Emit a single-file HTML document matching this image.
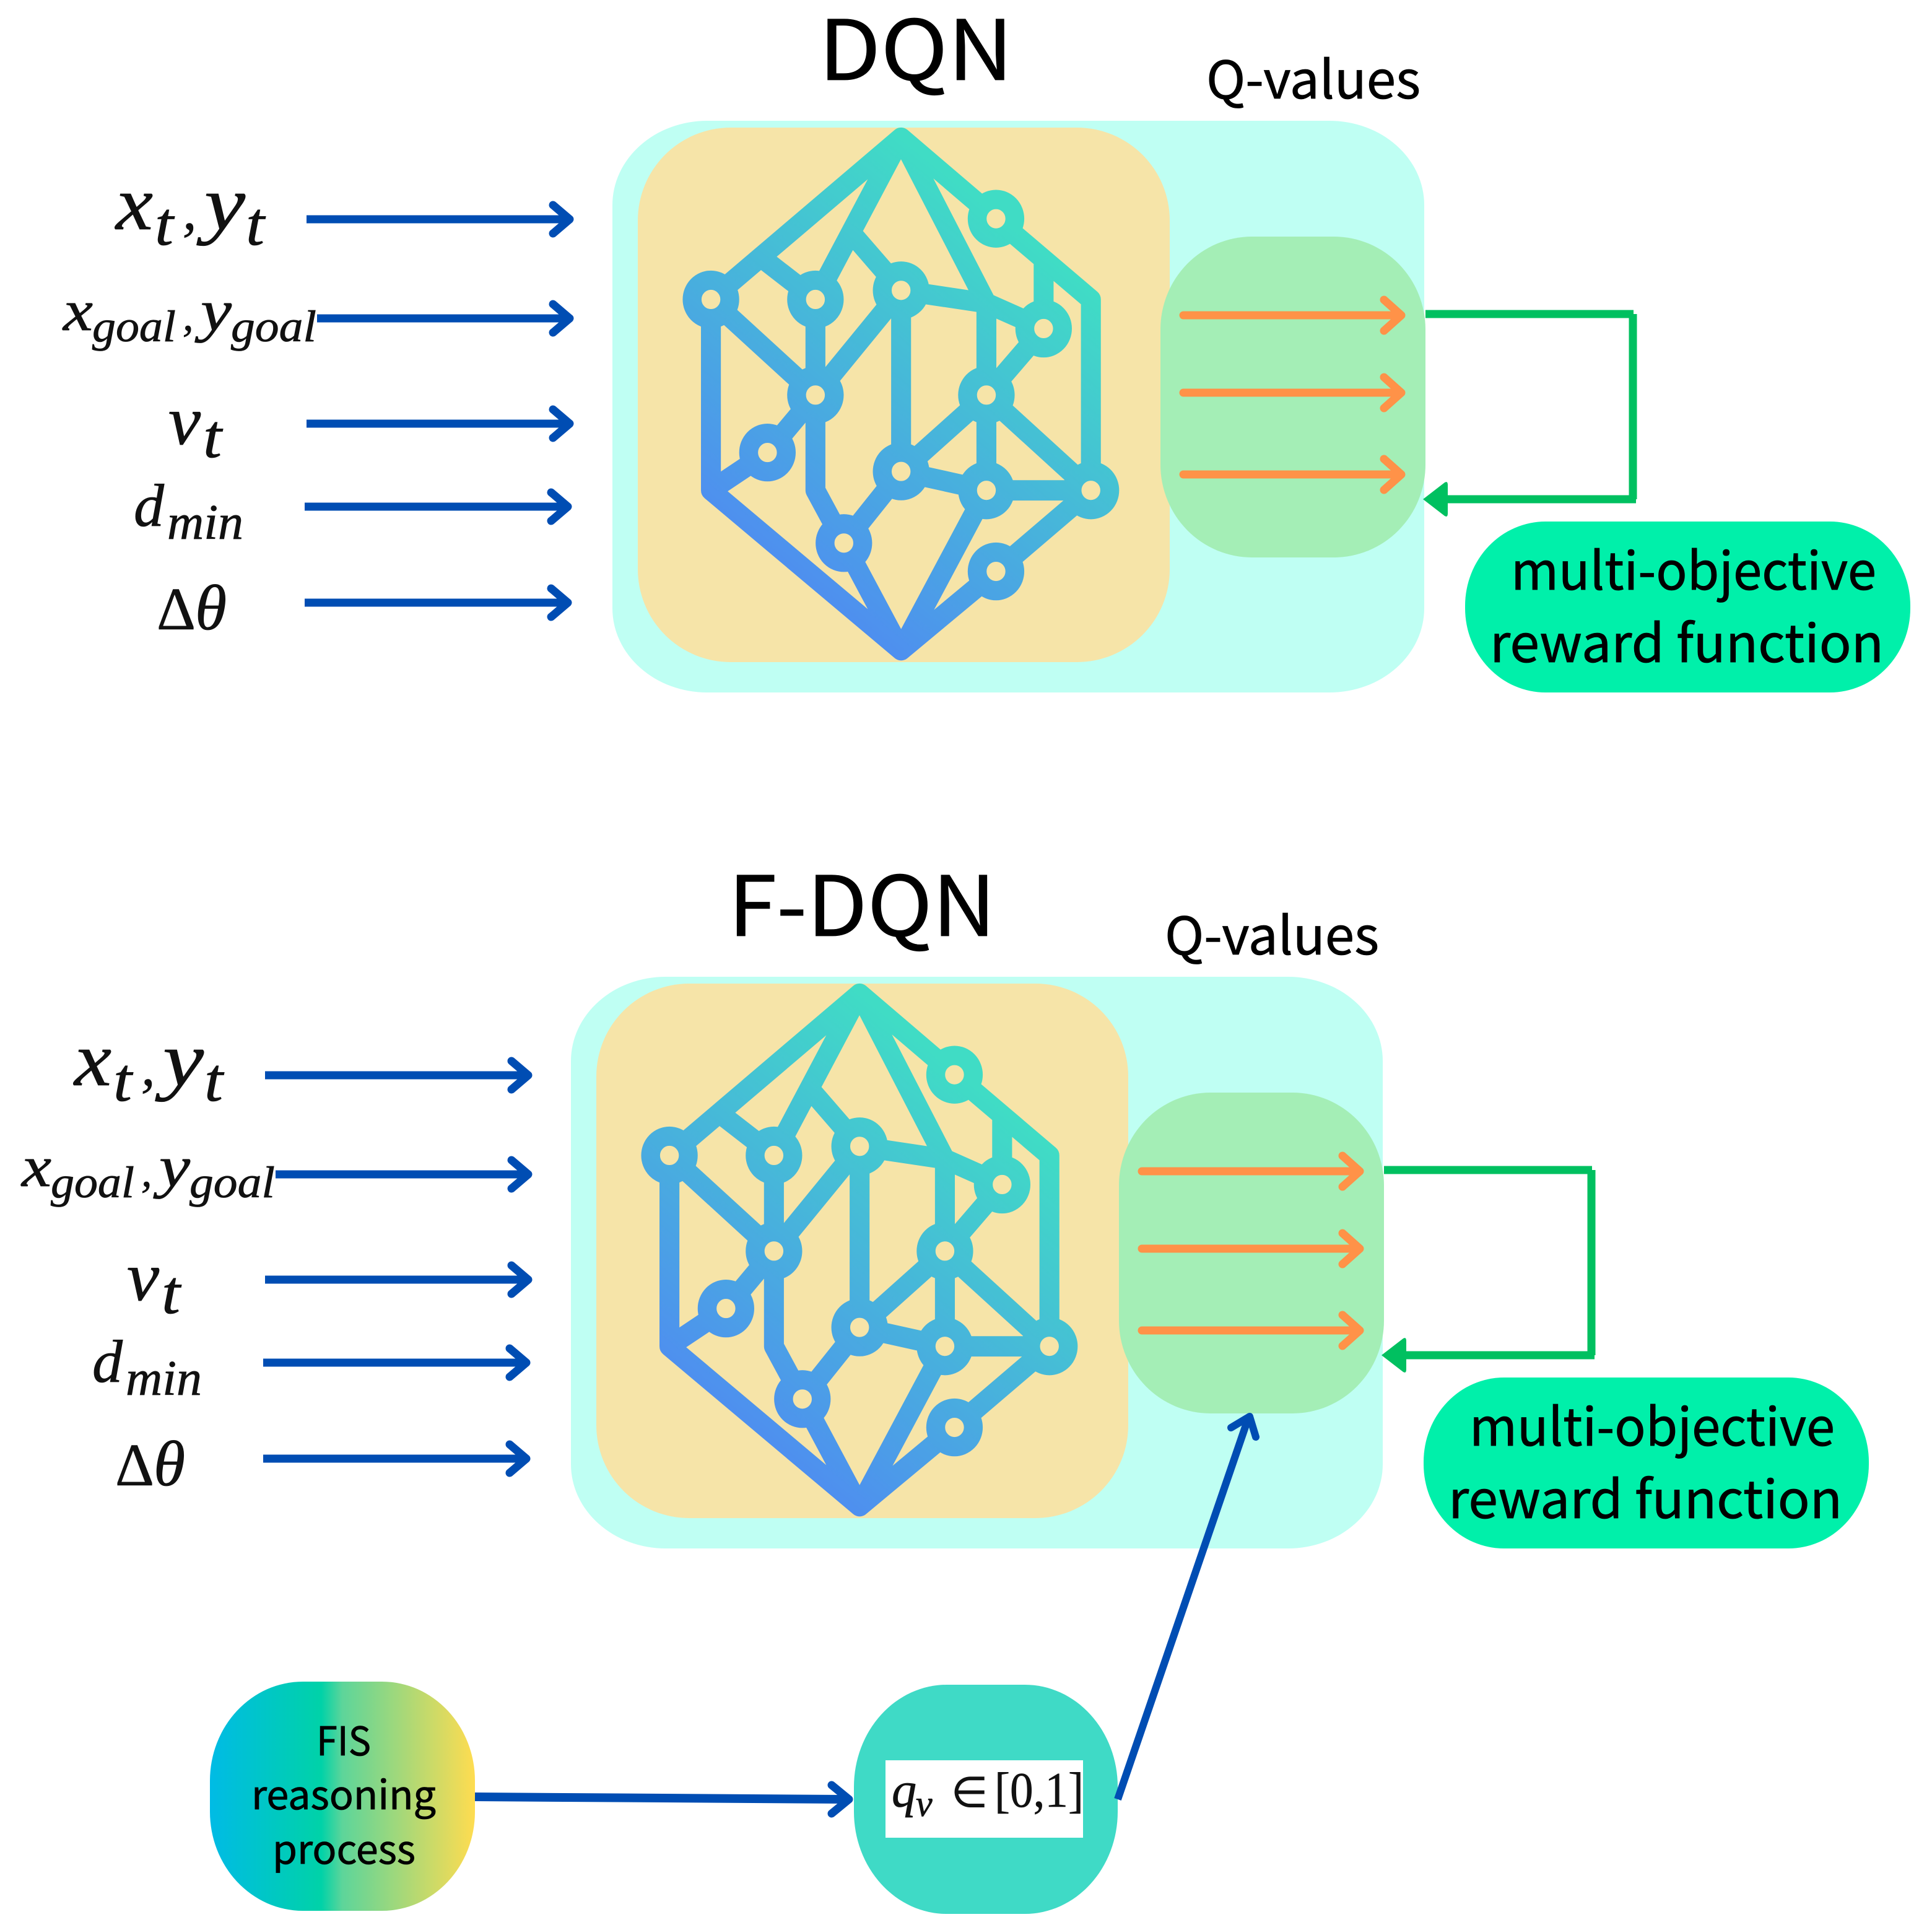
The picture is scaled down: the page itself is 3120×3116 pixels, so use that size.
<!DOCTYPE html>
<html><head><meta charset="utf-8"><style>
html,body{margin:0;padding:0;background:#fff}
svg{display:block}
.s{font-family:"Noto Sans CJK SC","Liberation Sans",sans-serif;fill:#000;stroke:#000;stroke-width:.8}
.m{font-family:"Liberation Serif",serif;font-style:italic;fill:#111;stroke:#111;stroke-width:.8}
.u{font-family:"Liberation Serif",serif;fill:#111;stroke:#111;stroke-width:.6}
</style></head><body>
<svg xmlns="http://www.w3.org/2000/svg" width="3120" height="3116" viewBox="0 0 3120 3116">
<defs>
<linearGradient id="ng" gradientUnits="userSpaceOnUse" x1="400" y1="1300" x2="1150" y2="350">
<stop offset="0" stop-color="#4f8af2"/><stop offset="1" stop-color="#40dcc5"/></linearGradient>
<linearGradient id="fis" x1="0" y1="0" x2="1" y2="0">
<stop offset="0" stop-color="#00bbe5"/><stop offset=".42" stop-color="#00d2a8"/><stop offset=".5" stop-color="#5dd59a"/><stop offset="1" stop-color="#ffdc50"/></linearGradient>
<g id="block">
<rect x="989" y="195" width="1311" height="923" rx="153" ry="136" fill="#bffff3"/>
<rect x="1030" y="206" width="859" height="863" rx="150" ry="150" fill="#f6e4a8"/>
<rect x="1874" y="382" width="428" height="518" rx="148" ry="150" fill="#a4eeb6"/>
<g transform="translate(1000,180) scale(.574,.587)" fill="none" stroke="url(#ng)" stroke-width="56" stroke-linejoin="round">
<path d="M258 517L793 72L1060 295L1327 517L1327 1042M793 72L552 517M793 72L1033 527L1194 597M793 492L1033 527L1033 780M1194 406L1194 597M1194 597L1033 780M1033 780L1327 1042M1033 780L1033 1042M1033 780L793 990M793 492L793 990M793 990L1033 1042L1327 1042M1033 1042L793 1482M1327 1042L1060 1265L793 1482L258 1042L258 517M258 1042L417 938L552 780M552 517L552 1042L632 1187L793 1482M632 1187L793 990M552 780L793 492M258 517L552 780M395 398L552 517M645 325L793 492"/>
<g fill="#f6e4a8" stroke-width="53">
<circle cx="258" cy="517" r="53"/><circle cx="552" cy="517" r="53"/><circle cx="793" cy="492" r="53"/>
<circle cx="1060" cy="295" r="53"/><circle cx="1194" cy="597" r="53"/><circle cx="552" cy="780" r="53"/>
<circle cx="1033" cy="780" r="53"/><circle cx="417" cy="938" r="53"/><circle cx="793" cy="990" r="53"/>
<circle cx="1033" cy="1042" r="53"/><circle cx="1327" cy="1042" r="53"/><circle cx="632" cy="1187" r="53"/>
<circle cx="1060" cy="1265" r="53"/>
</g></g>
<!-- orange arrows -->
<g fill="none" stroke="#ff9248" stroke-width="13" stroke-linejoin="round" stroke-linecap="round">
<path d="M1911 509H2258M2235 484L2263 509L2235 534"/>
<path d="M1911 634H2258M2235 609L2263 634L2235 659"/>
<path d="M1911 766H2258M2235 741L2263 766L2235 791"/>
</g>
<!-- green feedback -->
<path d="M2302 507H2638M2637 507V806M2642 806H2325" fill="none" stroke="#00c060" stroke-width="13"/>
<path d="M2298 806L2333 779Q2338 776 2338 783V829Q2338 836 2333 833Z" fill="#00c060"/>
<rect x="2366" y="842" width="719" height="276" rx="130" ry="136" fill="#00f0aa"/>
<!-- blue input arrows -->
<g fill="none" stroke="#004db3" stroke-width="13" stroke-linejoin="round">
<path d="M495 354H917"/><path d="M512 514H917"/><path d="M495 684H917"/><path d="M492 818H914"/><path d="M492 973H914"/>
<g stroke-linecap="round">
<path d="M893 331L920 354L893 377"/><path d="M893 491L920 514L893 537"/><path d="M893 661L920 684L893 707"/>
<path d="M890 795L917 818L890 841"/><path d="M890 950L917 973L890 996"/>
</g></g>
</g>
</defs>
<rect width="3120" height="3116" fill="#fff"/>
<use href="#block"/>
<use href="#block" x="-67" y="1382"/>

<g>
<text class="s" x="1322" y="129" font-size="134" textLength="314" lengthAdjust="spacingAndGlyphs">DQN</text>
<text class="s" x="1948" y="159" font-size="84" textLength="346" lengthAdjust="spacingAndGlyphs">Q-values</text>
<text class="s" x="2440" y="952" font-size="84" textLength="590" lengthAdjust="spacingAndGlyphs">multi-objective</text>
<text class="s" x="2406" y="1069" font-size="84" textLength="636" lengthAdjust="spacingAndGlyphs">reward function</text>
<text class="m" x="187" y="370" font-size="124" textLength="60" lengthAdjust="spacingAndGlyphs">x</text><text class="m" x="250" y="395" font-size="100" textLength="30" lengthAdjust="spacingAndGlyphs">t</text><text class="m" x="295" y="370" font-size="90">,</text><text class="m" x="330" y="370" font-size="124" textLength="66" lengthAdjust="spacingAndGlyphs">y</text><text class="m" x="397" y="395" font-size="100" textLength="30" lengthAdjust="spacingAndGlyphs">t</text>
<text class="m" x="102" y="533" font-size="94" textLength="48" lengthAdjust="spacingAndGlyphs">x</text><text class="m" x="149" y="551" font-size="72" textLength="135" lengthAdjust="spacingAndGlyphs">goal</text><text class="m" x="295" y="533" font-size="70">,</text><text class="m" x="324" y="533" font-size="94" textLength="50" lengthAdjust="spacingAndGlyphs">y</text><text class="m" x="373" y="551" font-size="72" textLength="138" lengthAdjust="spacingAndGlyphs">goal</text>
<text class="m" x="272" y="717" font-size="112" textLength="52" lengthAdjust="spacingAndGlyphs">v</text><text class="m" x="328" y="738" font-size="100" textLength="30" lengthAdjust="spacingAndGlyphs">t</text>
<text class="m" x="216" y="849" font-size="98">d</text><text class="m" x="270" y="870" font-size="80" textLength="123" lengthAdjust="spacingAndGlyphs">min</text>
<text class="u" x="253" y="1016" font-size="98">Δ</text><text class="m" x="315" y="1016" font-size="104">θ</text>
</g>
<g transform="translate(-67,1382)">
<text class="s" x="1243" y="129" font-size="134" textLength="432" lengthAdjust="spacingAndGlyphs">F-DQN</text>
<text class="s" x="1948" y="159" font-size="84" textLength="346" lengthAdjust="spacingAndGlyphs">Q-values</text>
<text class="s" x="2440" y="952" font-size="84" textLength="590" lengthAdjust="spacingAndGlyphs">multi-objective</text>
<text class="s" x="2406" y="1069" font-size="84" textLength="636" lengthAdjust="spacingAndGlyphs">reward function</text>
<text class="m" x="187" y="370" font-size="124" textLength="60" lengthAdjust="spacingAndGlyphs">x</text><text class="m" x="250" y="395" font-size="100" textLength="30" lengthAdjust="spacingAndGlyphs">t</text><text class="m" x="295" y="370" font-size="90">,</text><text class="m" x="330" y="370" font-size="124" textLength="66" lengthAdjust="spacingAndGlyphs">y</text><text class="m" x="397" y="395" font-size="100" textLength="30" lengthAdjust="spacingAndGlyphs">t</text>
<text class="m" x="102" y="533" font-size="94" textLength="48" lengthAdjust="spacingAndGlyphs">x</text><text class="m" x="149" y="551" font-size="72" textLength="135" lengthAdjust="spacingAndGlyphs">goal</text><text class="m" x="295" y="533" font-size="70">,</text><text class="m" x="324" y="533" font-size="94" textLength="50" lengthAdjust="spacingAndGlyphs">y</text><text class="m" x="373" y="551" font-size="72" textLength="138" lengthAdjust="spacingAndGlyphs">goal</text>
<text class="m" x="272" y="717" font-size="112" textLength="52" lengthAdjust="spacingAndGlyphs">v</text><text class="m" x="328" y="738" font-size="100" textLength="30" lengthAdjust="spacingAndGlyphs">t</text>
<text class="m" x="216" y="849" font-size="98">d</text><text class="m" x="270" y="870" font-size="80" textLength="123" lengthAdjust="spacingAndGlyphs">min</text>
<text class="u" x="253" y="1016" font-size="98">Δ</text><text class="m" x="315" y="1016" font-size="104">θ</text>
</g>

<!-- FIS -->
<rect x="339" y="2715" width="428" height="370" rx="150" ry="160" fill="url(#fis)"/>
<text class="s" x="511" y="2834" font-size="64" textLength="88" lengthAdjust="spacingAndGlyphs">FIS</text>
<text class="s" x="406" y="2921" font-size="64" textLength="298" lengthAdjust="spacingAndGlyphs">reasoning</text>
<text class="s" x="440" y="3009" font-size="64" textLength="231" lengthAdjust="spacingAndGlyphs">process</text>
<!-- q -->
<rect x="1379" y="2720" width="426" height="370" rx="150" ry="165" fill="#3fdac6"/>
<rect x="1430" y="2842" width="319" height="125" fill="#fff"/>
<text class="m" x="1440" y="2917" font-size="80">q</text><text class="m" x="1479" y="2932" font-size="60">v</text>
<text class="u" x="1536" y="2917" font-size="68">∈</text>
<text class="u" x="1606" y="2917" font-size="80" textLength="144" lengthAdjust="spacingAndGlyphs">[0,1]</text>
<!-- arrows -->
<path d="M767 2901L1366 2905" fill="none" stroke="#004db3" stroke-width="14"/>
<path d="M1343 2882L1371 2905L1343 2928" fill="none" stroke="#004db3" stroke-width="13" stroke-linecap="round" stroke-linejoin="round"/>
<path d="M1805 2905L2014 2295" fill="none" stroke="#004db3" stroke-width="12"/>
<path d="M1988 2305L2018 2287L2028 2320" fill="none" stroke="#004db3" stroke-width="12" stroke-linecap="round" stroke-linejoin="round"/>
</svg>
</body></html>
